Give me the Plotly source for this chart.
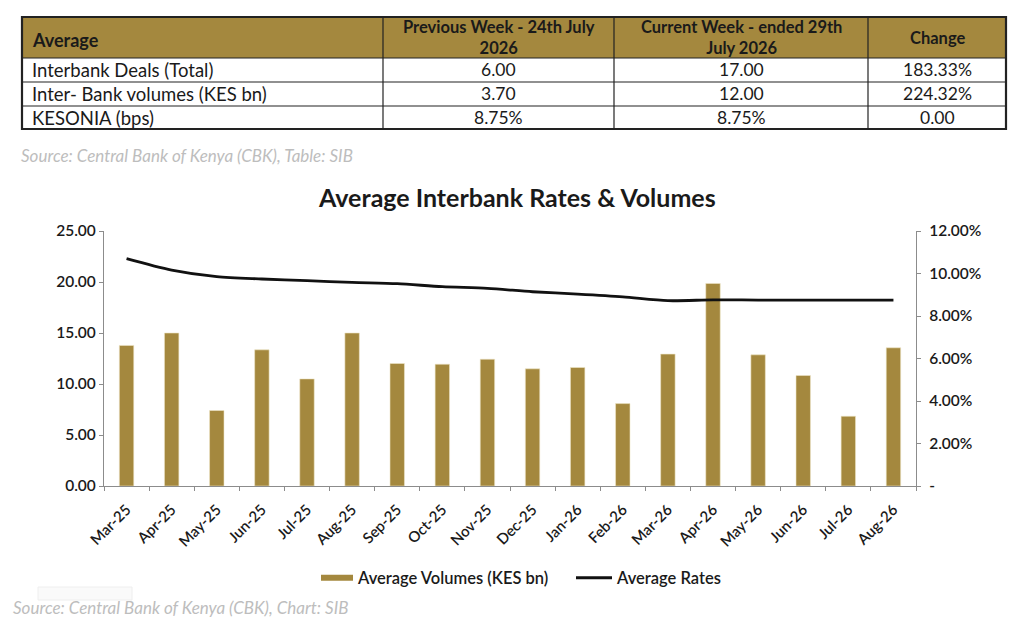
import plotly.graph_objects as go

W, H = 1024, 630
OFF = 8  # page offset of the plot inside the browser window

# ---------------- data ----------------
months = ["Mar-25", "Apr-25", "May-25", "Jun-25", "Jul-25", "Aug-25", "Sep-25", "Oct-25",
          "Nov-25", "Dec-25", "Jan-26", "Feb-26", "Mar-26", "Apr-26", "May-26", "Jun-26",
          "Jul-26", "Aug-26"]
volumes = [13.78, 15.00, 7.40, 13.35, 10.50, 15.00, 12.01, 11.94, 12.43, 11.49, 11.62, 8.08,
           12.93, 19.86, 12.86, 10.83, 6.84, 13.55]
rates = [10.70, 10.16, 9.85, 9.74, 9.66, 9.58, 9.52, 9.38, 9.30, 9.14, 9.03, 8.90,
         8.72, 8.76, 8.75, 8.75, 8.75, 8.75]

left_ticks = [0, 5, 10, 15, 20, 25]
right_ticks = [0, 2, 4, 6, 8, 10, 12]
right_ticktext = ["-", "2.00%", "4.00%", "6.00%", "8.00%", "10.00%", "12.00%"]

table_header = ["Average", "Previous Week - 24th July<br>2026",
                "Current Week - ended 29th<br>July 2026", "Change"]
row_labels = ["Interbank Deals (Total)", "Inter- Bank volumes (KES bn)", "KESONIA (bps)"]
prev_week = ["6.00", "3.70", "8.75%"]
curr_week = ["17.00", "12.00", "8.75%"]
change = ["183.33%", "224.32%", "0.00"]

title_text = "Average Interbank Rates & Volumes"
table_source = "Source: Central Bank of Kenya (CBK), Table: SIB"
chart_source = "Source: Central Bank of Kenya (CBK), Chart: SIB"

# ---------------- style ----------------
GOLD = "#A4883E"
FONT = "Lato"
DARK = "#1a1a1a"
AXIS = "#8c8c8c"


def px(x):
    return (x - OFF) / W


def py(y):
    return 1 - (y - OFF) / H


fig = go.Figure()

fig.add_trace(go.Bar(
    x=months, y=volumes, name="Average Volumes (KES bn)", showlegend=False,
    marker=dict(color=GOLD, line=dict(color="#efe6c8", width=0.6)),
    yaxis="y", xaxis="x",
))
# legend entry for the bars (wide flat swatch)
fig.add_trace(go.Scatter(
    x=[None], y=[None], name="Average Volumes (KES bn)", mode="lines",
    line=dict(color=GOLD, width=6), yaxis="y", xaxis="x", legend="legend",
))
fig.add_trace(go.Scatter(
    x=months, y=rates, name="Average Rates", mode="lines",
    line=dict(color="#111111", width=2.8, shape="spline", smoothing=0.8),
    yaxis="y2", xaxis="x", legend="legend2",
))

shapes = []
annotations = []

# ---------------- table ----------------
col_x = [22, 383, 614, 868, 1006]
row_y = [17, 58, 82, 106, 129]

shapes.append(dict(type="rect", xref="paper", yref="paper",
                   x0=px(col_x[0]), x1=px(col_x[-1]), y0=py(row_y[0]), y1=py(row_y[1]),
                   fillcolor=GOLD, line=dict(width=0), layer="below"))
for yy in row_y[1:-1]:
    shapes.append(dict(type="line", xref="paper", yref="paper",
                       x0=px(col_x[0]), x1=px(col_x[-1]), y0=py(yy), y1=py(yy),
                       line=dict(color="#222222", width=1.2)))
for xx in col_x[1:-1]:
    shapes.append(dict(type="line", xref="paper", yref="paper",
                       x0=px(xx), x1=px(xx), y0=py(row_y[0]), y1=py(row_y[-1]),
                       line=dict(color="#222222", width=1.2)))
shapes.append(dict(type="rect", xref="paper", yref="paper",
                   x0=px(col_x[0]), x1=px(col_x[-1]), y0=py(row_y[0]), y1=py(row_y[-1]),
                   line=dict(color="#222222", width=2.2)))

# header text
hy = (row_y[0] + row_y[1]) / 2
for i, h in enumerate(table_header):
    if i == 0:
        annotations.append(dict(xref="paper", yref="paper", x=px(col_x[0] + 8), y=py(hy + 2),
                                text=h, showarrow=False, xanchor="left", yanchor="middle",
                                font=dict(family=FONT, size=18, color=DARK, weight="bold")))
    else:
        cx = (col_x[i] + col_x[i + 1]) / 2
        annotations.append(dict(xref="paper", yref="paper", x=px(cx), y=py(hy),
                                text=h, showarrow=False, xanchor="center", yanchor="middle",
                                font=dict(family=FONT, size=16.5, color=DARK, weight="bold")))

# body text
for r in range(3):
    cy = (row_y[r + 1] + row_y[r + 2]) / 2
    cells = [row_labels[r], prev_week[r], curr_week[r], change[r]]
    for c, t in enumerate(cells):
        if c == 0:
            annotations.append(dict(xref="paper", yref="paper", x=px(col_x[0] + 8), y=py(cy),
                                    text=t, showarrow=False, xanchor="left", yanchor="middle",
                                    font=dict(family=FONT, size=18.5, color=DARK)))
        else:
            cx = (col_x[c] + col_x[c + 1]) / 2
            annotations.append(dict(xref="paper", yref="paper", x=px(cx), y=py(cy),
                                    text=t, showarrow=False, xanchor="center", yanchor="middle",
                                    font=dict(family=FONT, size=17.5, color=DARK)))

annotations.append(dict(xref="paper", yref="paper", x=px(19), y=py(155), text=table_source,
                        showarrow=False, xanchor="left", yanchor="middle",
                        font=dict(family=FONT, size=17, color="#BDBDBD", style="italic")))
annotations.append(dict(xref="paper", yref="paper", x=px(11), y=py(607), text=chart_source,
                        showarrow=False, xanchor="left", yanchor="middle",
                        font=dict(family=FONT, size=17, color="#BDBDBD", style="italic")))
annotations.append(dict(xref="paper", yref="paper", x=px(517), y=py(197), text=title_text,
                        showarrow=False, xanchor="center", yanchor="middle",
                        font=dict(family=FONT, size=25, color=DARK, weight="bold")))

# faint artifact box bottom-left
shapes.append(dict(type="rect", xref="paper", yref="paper",
                   x0=px(38), x1=px(132), y0=py(600), y1=py(587),
                   fillcolor="#fafafa", line=dict(color="#eeeeee", width=1), layer="below"))

legend_font = dict(family=FONT, size=16.5, color=DARK, weight=600)

fig.update_layout(
    width=W, height=H,
    margin=dict(l=0, r=0, t=0, b=0, pad=0, autoexpand=False),
    paper_bgcolor="white", plot_bgcolor="white",
    shapes=shapes, annotations=annotations,
    bargap=0.68,
    showlegend=True,
    legend=dict(orientation="h", x=px(316), xanchor="left", y=py(578), yanchor="middle",
                font=legend_font, bgcolor="rgba(0,0,0,0)", itemwidth=32),
    legend2=dict(orientation="h", x=px(571), xanchor="left", y=py(578), yanchor="middle",
                 font=legend_font, bgcolor="rgba(0,0,0,0)", itemwidth=36),
    xaxis=dict(domain=[px(104), px(916)], anchor="y", type="category", automargin=False,
               showline=True, linecolor=AXIS, linewidth=1.2,
               ticks="outside", tickson="boundaries", ticklen=4, tickcolor=AXIS,
               ticklabelstandoff=8,
               tickangle=-45, tickfont=dict(family=FONT, size=15, color=DARK, weight=600),
               showgrid=False, zeroline=False),
    yaxis=dict(domain=[py(486), py(231)], range=[0, 25], tickvals=left_ticks, automargin=False,
               tickformat=".2f", showline=True, linecolor=AXIS, linewidth=1.2,
               ticks="outside", ticklen=4, tickcolor=AXIS,
               tickfont=dict(family=FONT, size=15.5, color=DARK, weight=600),
               showgrid=False, zeroline=False),
    yaxis2=dict(overlaying="y", side="right", anchor="x", range=[0, 12], automargin=False,
                tickvals=right_ticks, ticktext=right_ticktext,
                showline=True, linecolor=AXIS, linewidth=1.2,
                ticks="outside", ticklen=4, tickcolor=AXIS, ticklabelstandoff=5,
                tickfont=dict(family=FONT, size=15.5, color=DARK, weight=600),
                showgrid=False, zeroline=False),
)

fig.write_html("out.html")
